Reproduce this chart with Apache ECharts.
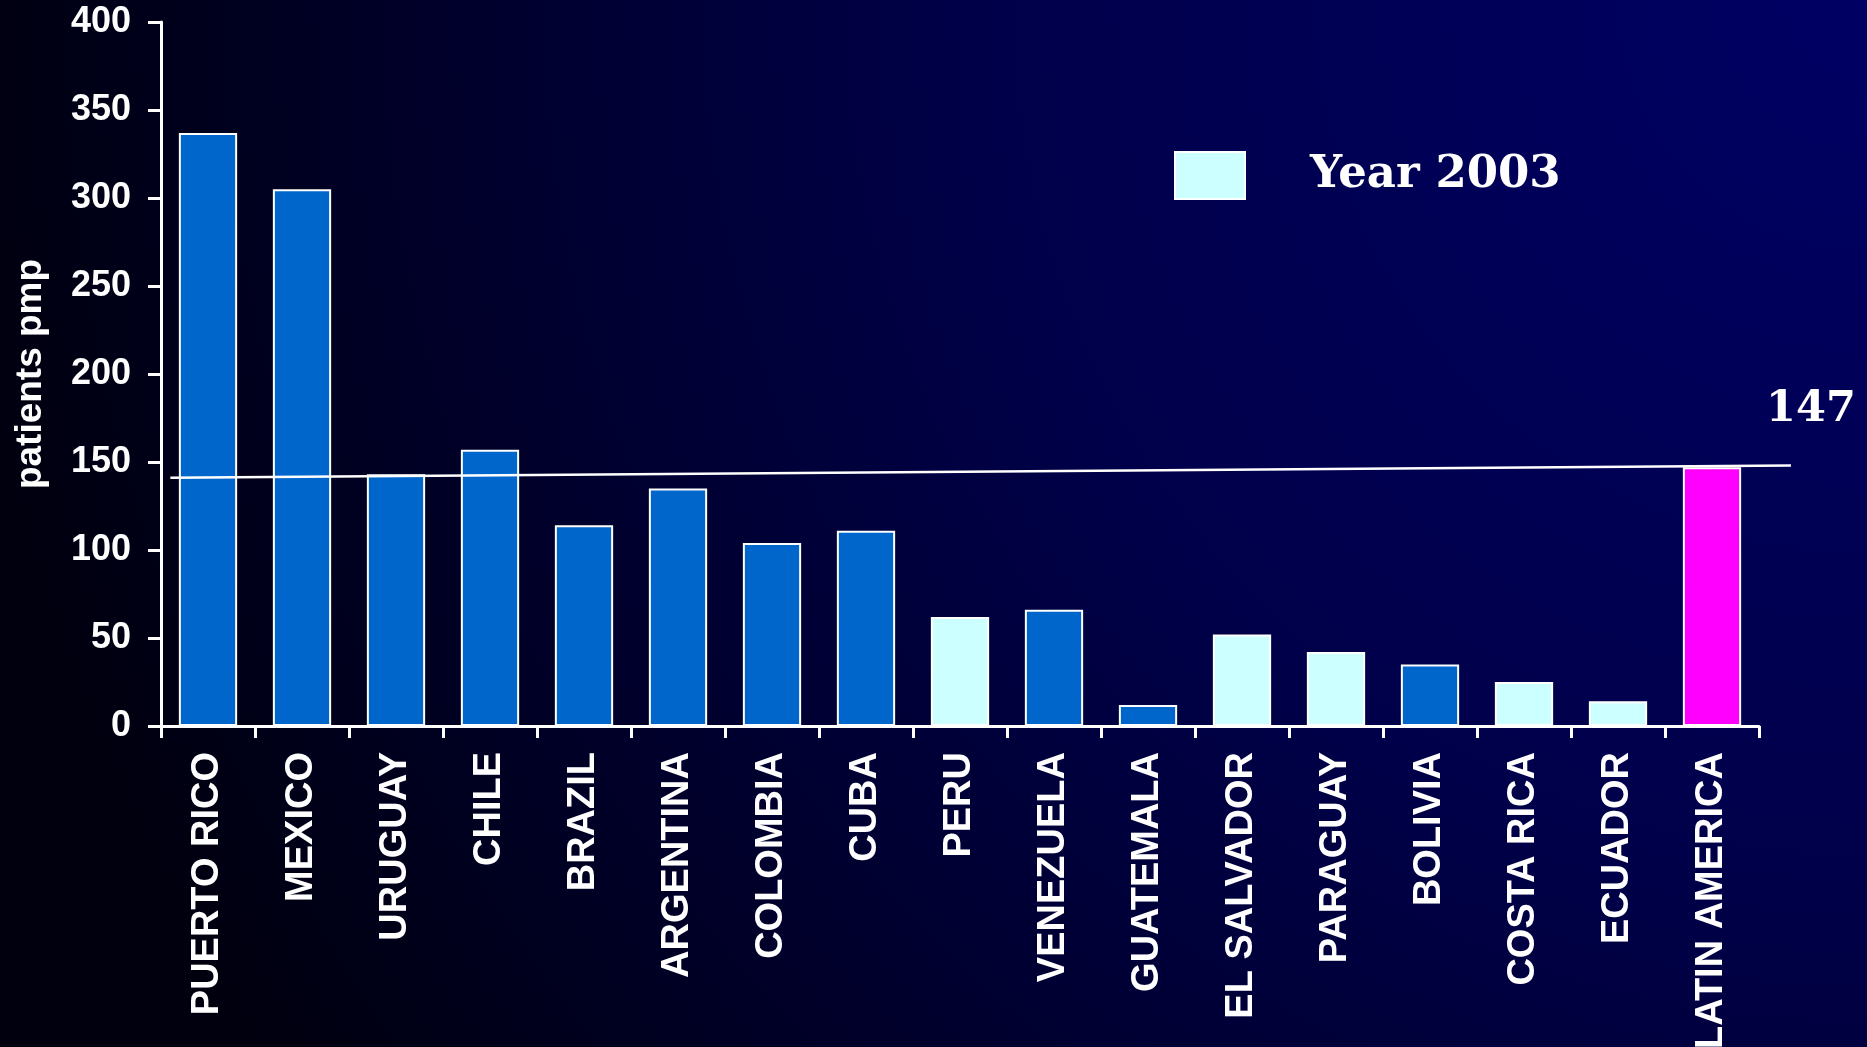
<!DOCTYPE html>
<html>
<head>
<meta charset="utf-8">
<script src="https://cdn.jsdelivr.net/npm/echarts@6/dist/echarts.min.js"></script>
<style>
  html, body { margin: 0; padding: 0; width: 100%; height: 100%; background: #000020; }
  #chart { width: 1867px; height: 1047px; }
</style>
</head>
<body>
<div id="chart"></div>
<script>
// ---- data ----
const categories = ['PUERTO RICO', 'MEXICO', 'URUGUAY', 'CHILE', 'BRAZIL', 'ARGENTINA', 'COLOMBIA', 'CUBA', 'PERU', 'VENEZUELA', 'GUATEMALA', 'EL SALVADOR', 'PARAGUAY', 'BOLIVIA', 'COSTA RICA', 'ECUADOR', 'LATIN AMERICA'];
const values = [337, 305, 143, 157, 114, 135, 104, 111, 62, 66, 12, 52, 42, 35, 25, 14, 147];
const year2003Countries = ['PERU', 'EL SALVADOR', 'PARAGUAY', 'COSTA RICA', 'ECUADOR'];
const regionCategory = 'LATIN AMERICA';
const avgLineX = [0.1, 17.34];   // position along the category axis (in category units)
const avgLineY = [141, 148];
const avgLabel = '147';
const yMin = 0, yMax = 400, yInterval = 50;
const yAxisName = 'patients pmp';
const legendName = 'Year 2003';

// ---- layout ----
const plotLeft = 161, plotRight = 108, plotTop = 22, plotBottom = 321;
const W = 1867;
// overlay axis spanning the plot plus the right margin, in category units
const overlayMax = categories.length * (W - plotLeft) / (W - plotLeft - plotRight);

// ---- build series data ----
const otherData = categories.map((c, i) => (year2003Countries.includes(c) || c === regionCategory) ? '-' : values[i]);
const y2003Data = categories.map((c, i) => year2003Countries.includes(c) ? values[i] : '-');
const regionData = categories.map((c, i) => c === regionCategory ? values[i] : '-');
const avgData = avgLineX.map((x, i) => {
  const item = { value: [x, avgLineY[i]] };
  if (i === avgLineX.length - 1) {
    item.label = {
      show: true, formatter: avgLabel, position: 'top', distance: 34, offset: [20, 0],
      color: '#ffffff', fontFamily: 'DejaVu Serif', fontWeight: 'bold', fontSize: 43
    };
  }
  return item;
});

const chart = echarts.init(document.getElementById('chart'), null, { renderer: 'canvas' });
const sans = 'Liberation Sans, Arial, sans-serif';
const barBorder = { borderColor: '#ffffff', borderWidth: 2 };

chart.setOption({
  backgroundColor: {
    type: 'radial', x: 1, y: 0, r: 1.85,
    colorStops: [
      { offset: 0, color: '#000064' },
      { offset: 0.45, color: '#00004a' },
      { offset: 1, color: '#00000e' }
    ]
  },
  animation: false,
  grid: [
    { left: plotLeft, right: plotRight, top: plotTop, bottom: plotBottom, containLabel: false, outerBoundsMode: 'none' },
    { left: plotLeft, right: 0, top: plotTop, bottom: plotBottom, containLabel: false, outerBoundsMode: 'none', show: false }
  ],
  legend: {
    data: [legendName],
    left: 1169, top: 146,
    itemWidth: 70, itemHeight: 47,
    icon: 'rect',
    itemStyle: { borderColor: '#ffffff', borderWidth: 2 },
    textStyle: {
      color: '#ffffff', fontFamily: 'DejaVu Serif', fontWeight: 'bold', fontSize: 45,
      padding: [0, 0, 22, 60]
    },
    selectedMode: false
  },
  xAxis: [
    {
      type: 'category',
      gridIndex: 0,
      data: categories,
      boundaryGap: true,
      axisLine: { show: true, lineStyle: { color: '#ffffff', width: 3 } },
      axisTick: { show: true, length: 12, interval: 0, lineStyle: { color: '#ffffff', width: 3 } },
      axisLabel: {
        interval: 0, rotate: 90, margin: 26,
        color: '#ffffff', fontFamily: sans, fontWeight: 'bold', fontSize: 38
      },
      splitLine: { show: false }
    },
    {
      type: 'value', gridIndex: 1, min: 0, max: overlayMax, show: false
    }
  ],
  yAxis: [
    {
      type: 'value',
      gridIndex: 0,
      min: yMin, max: yMax, interval: yInterval,
      name: yAxisName,
      nameLocation: 'middle',
      nameRotate: 90,
      nameGap: 112,
      nameTextStyle: { color: '#ffffff', fontFamily: sans, fontWeight: 'bold', fontSize: 37 },
      axisLine: { show: true, lineStyle: { color: '#ffffff', width: 3 } },
      axisTick: { show: true, length: 13, lineStyle: { color: '#ffffff', width: 3 } },
      axisLabel: { color: '#ffffff', fontFamily: sans, fontWeight: 'bold', fontSize: 36, margin: 30 },
      splitLine: { show: false }
    },
    {
      type: 'value', gridIndex: 1, min: yMin, max: yMax, show: false
    }
  ],
  series: [
    {
      name: 'Other years', type: 'bar', data: otherData, barWidth: '62%', barGap: '-100%',
      itemStyle: Object.assign({ color: '#0066cc' }, barBorder)
    },
    {
      name: legendName, type: 'bar', data: y2003Data, barWidth: '62%', barGap: '-100%',
      itemStyle: Object.assign({ color: '#ccffff' }, barBorder)
    },
    {
      name: regionCategory, type: 'bar', data: regionData, barWidth: '62%', barGap: '-100%',
      itemStyle: Object.assign({ color: '#ff00ff' }, barBorder)
    },
    {
      name: 'Average', type: 'line', xAxisIndex: 1, yAxisIndex: 1,
      data: avgData, clip: false, z: 5,
      symbol: 'circle', symbolSize: 0, showSymbol: true,
      lineStyle: { color: '#ffffff', width: 2.5 },
      itemStyle: { color: '#ffffff' }
    }
  ]
});
</script>
</body>
</html>
